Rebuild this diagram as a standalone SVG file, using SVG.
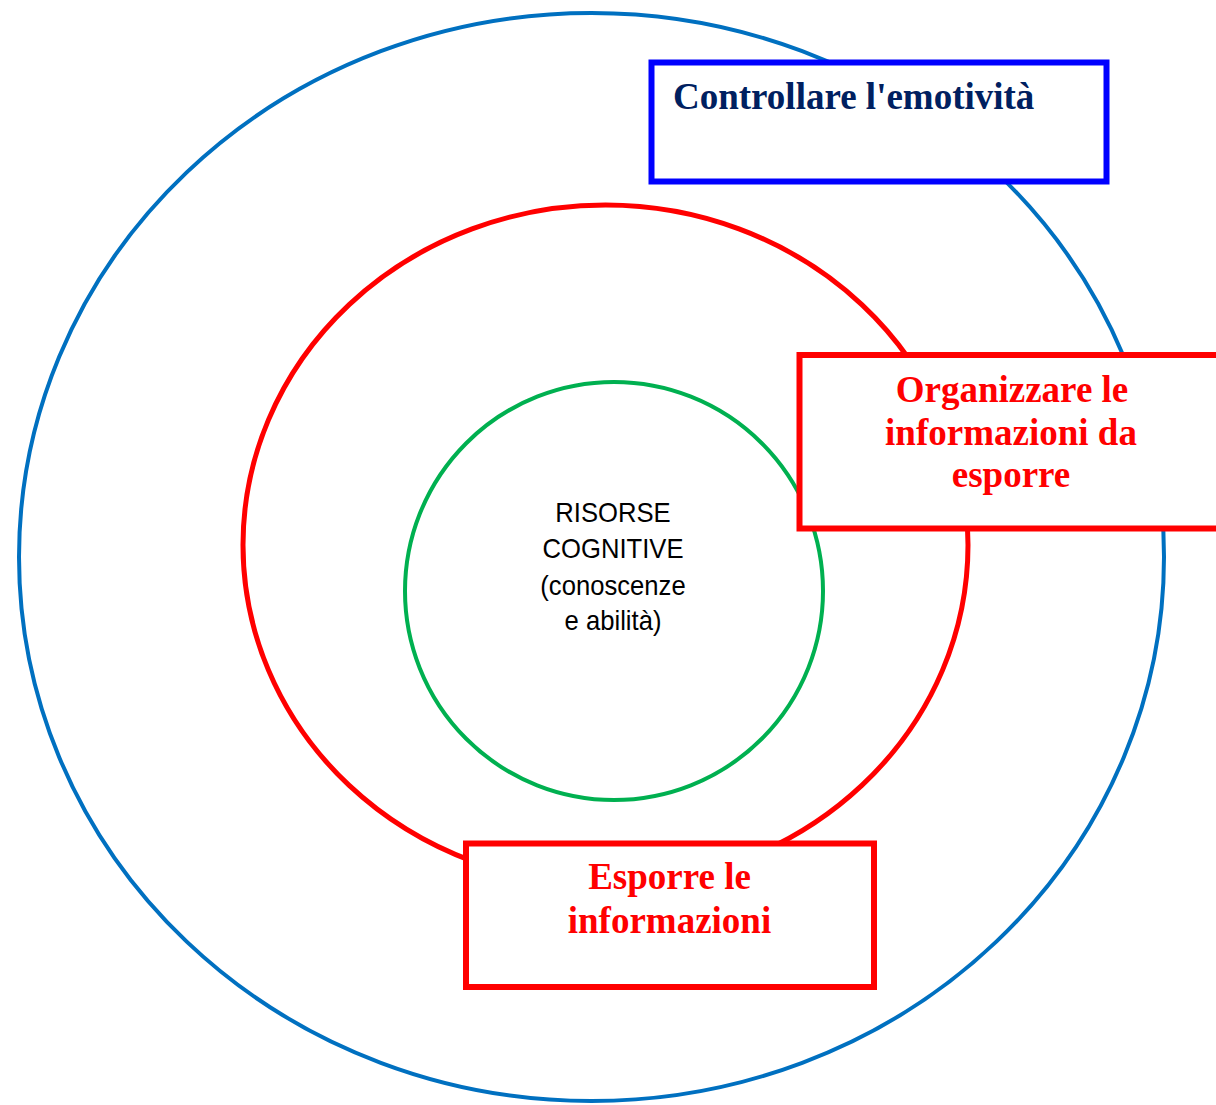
<svg xmlns="http://www.w3.org/2000/svg" width="1216" height="1105" viewBox="0 0 1216 1105">
<style>
.ring{fill:none}
.box{fill:#fff;stroke-width:6}
.lbl{font-family:"Liberation Serif","Times New Roman",serif;font-weight:bold;font-size:37px}
.core{font-family:"Liberation Sans",Arial,sans-serif;font-size:27px;fill:#000;text-anchor:middle}
</style>
<rect width="1216" height="1105" fill="#fff"/>
<g id="outer-ring"><ellipse class="ring" cx="591.5" cy="557" rx="572.5" ry="544" stroke="#0070C0" stroke-width="4"/></g>
<g id="middle-ring"><ellipse class="ring" cx="605.5" cy="545" rx="362.5" ry="340" stroke="#FF0000" stroke-width="5"/></g>
<g id="inner-ring">
<circle class="ring" cx="614" cy="591" r="209" stroke="#00B050" stroke-width="4"/>
<g transform="translate(613,0) scale(0.95,1)">
<text class="core" x="0" y="522">RISORSE</text>
<text class="core" x="0" y="558">COGNITIVE</text>
<text class="core" x="0" y="595">(conoscenze</text>
<text class="core" x="0" y="630">e abilità)</text>
</g>
</g>
<g id="connectors"></g>
<g id="box-emotivita">
<rect class="box" x="651.5" y="62.5" width="455" height="119" stroke="#0000FF"/>
<text class="lbl" x="673" y="109" fill="#002060">Controllare l'emotività</text>
</g>
<g id="box-organizzare">
<rect class="box" x="799.5" y="355" width="430" height="173.5" stroke="#FF0000"/>
<text class="lbl" x="1012" y="402" fill="#FF0000" text-anchor="middle">Organizzare le</text>
<text class="lbl" x="1011" y="445" fill="#FF0000" text-anchor="middle">informazioni da</text>
<text class="lbl" x="1011" y="487" fill="#FF0000" text-anchor="middle">esporre</text>
</g>
<g id="box-esporre">
<rect class="box" x="466" y="843.5" width="408" height="143.5" stroke="#FF0000"/>
<text class="lbl" x="669.5" y="889" fill="#FF0000" text-anchor="middle">Esporre le</text>
<text class="lbl" x="669.5" y="933" fill="#FF0000" text-anchor="middle">informazioni</text>
</g>
</svg>
